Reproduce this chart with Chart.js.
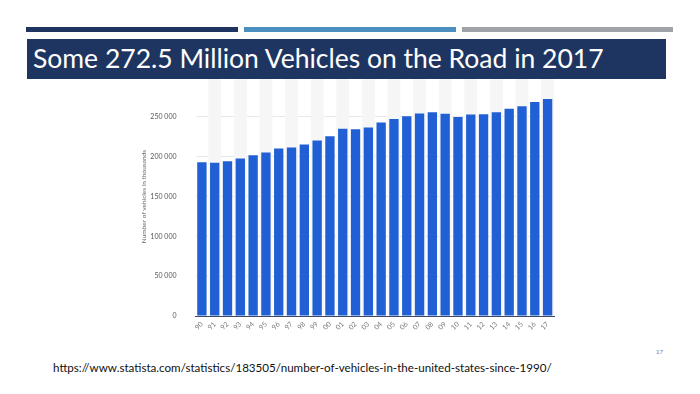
<!DOCTYPE html>
<html lang="en">
<head>
  <meta charset="UTF-8">
  <title>Vehicles on the road</title>
  <script src="https://cdn.jsdelivr.net/npm/chart.js"></script>
  <style>
    html, body { margin:0; padding:0; background:#fff; }
    #slide { position:relative; width:700px; height:394px; overflow:hidden; font-family:Lato, "Open Sans", sans-serif; }
    .rule { position:absolute; top:27px; height:5px; }
    #titleBox { position:absolute; left:27px; top:39px; width:639px; height:40px; background:#1f3561; z-index:2; }
    #titleBox span { position:absolute; left:6px; top:3px; color:#fff; font-size:26.5px; white-space:nowrap; }
    #chartBox { position:absolute; left:140px; top:54px; width:420px; height:292px; z-index:1; }
    #source { position:absolute; left:53px; top:361px; font-size:11.6px; color:#111; white-space:nowrap; }
    #pageNo { position:absolute; left:656px; top:348px; font-size:6px; color:#6d80a8; }
  </style>
</head>
<body>
<div id="slide">
  <div class="rule" style="left:26px;width:212px;background:#1f3561"></div>
  <div class="rule" style="left:244px;width:212px;background:#4a8fc0"></div>
  <div class="rule" style="left:462px;width:211px;background:#9fa3a9"></div>

  <div id="titleBox"><span>Some 272.5 Million Vehicles on the Road in 2017</span></div>

  <div id="chartBox"><canvas id="grafVeh"></canvas></div>

  <div id="source">https://www.statista.com/statistics/183505/number-of-vehicles-in-the-united-states-since-1990/</div>
  <div id="pageNo">17</div>
</div>

<script>
  /* ---------- datos ---------- */
  const years = ['90','91','92','93','94','95','96','97','98','99','00','01','02','03',
                 '04','05','06','07','08','09','10','11','12','13','14','15','16','17'];
  const vehicles = [193.1, 192.5, 194.4, 198.0, 201.8, 205.4, 210.4, 211.6, 215.5, 220.5,
                    225.8, 235.3, 234.6, 236.8, 243.0, 247.4, 250.8, 254.4, 255.9, 254.2,
                    250.1, 253.2, 253.6, 255.9, 260.4, 263.6, 268.8, 272.5].map(v => v * 1000);
  const yTicks = [0, 50000, 100000, 150000, 200000, 250000, 300000];

  /* bandas grises alternas detrás de las barras */
  const stripes = {
    id: 'stripes',
    beforeDatasetsDraw(chart) {
      const { ctx, chartArea: a, scales: { x } } = chart;
      const w = x.getPixelForValue(1) - x.getPixelForValue(0);
      ctx.save();
      ctx.fillStyle = '#f6f6f6';
      years.forEach((_, i) => {
        if (i % 2 === 1) {
          const cx = x.getPixelForValue(i);
          ctx.fillRect(cx - w / 2, a.top, w, a.bottom - a.top);
        }
      });
      ctx.restore();
    }
  };

  new Chart(document.getElementById('grafVeh'), {
    type: 'bar',
    data: {
      labels: years,
      datasets: [{
        data: vehicles,
        backgroundColor: '#2160d4',
        categoryPercentage: 1,
        barPercentage: 0.73
      }]
    },
    options: {
      responsive: true, maintainAspectRatio: false, animation: false,
      layout: { padding: { top: 10, right: 6, bottom: 0, left: 0 } },
      plugins: { legend: { display: false }, tooltip: { enabled: false } },
      scales: {
        x: {
          grid: { display: false, drawTicks: false },
          border: { display: true, color: '#3d4a66', width: 1 },
          ticks: { color: '#7a7a7a', font: { size: 7, family: 'Lato' }, autoSkip: false,
                   maxRotation: 45, minRotation: 45, padding: 4 },
          afterFit(s) { s.height = 30; }
        },
        y: {
          min: 0, max: 300000,
          afterBuildTicks(s) { s.ticks = yTicks.map(v => ({ value: v })); },
          grid: { color: '#e8e8e8', drawTicks: false },
          border: { display: false },
          ticks: { color: '#555', font: { size: 7, family: 'Lato' }, padding: 19,
                   callback: v => v.toLocaleString('en-US').replace(/,/g, ' ') },
          title: { display: true, text: 'Number of vehicles in thousands',
                   color: '#666', font: { size: 6.5, family: 'Lato' }, padding: 0 },
          afterFit(s) { s.width = 55.5; }
        }
      }
    },
    plugins: [stripes]
  });
</script>
</body>
</html>
